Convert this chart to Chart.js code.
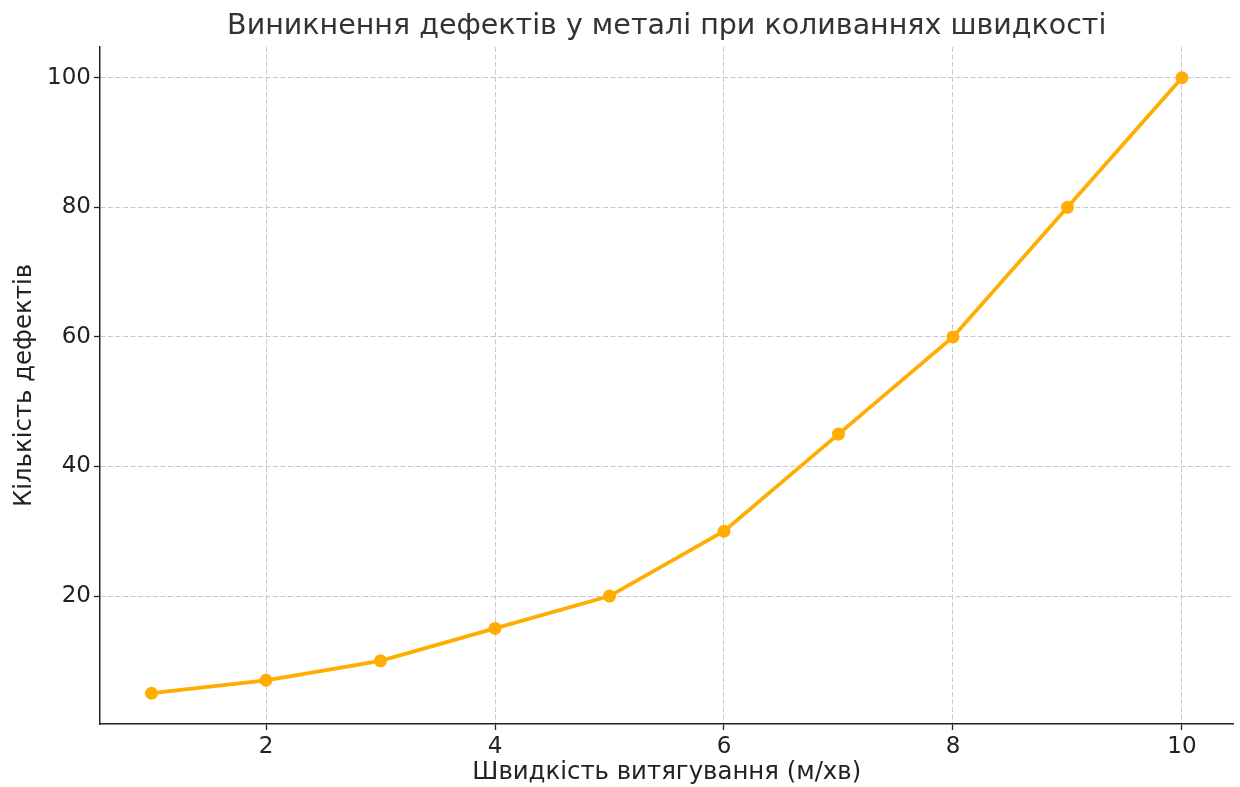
<!DOCTYPE html>
<html><head><meta charset="utf-8">
<script src="https://cdn.jsdelivr.net/npm/chart.js@4"></script>
<style>html,body{margin:0;padding:0;background:#fff}#wrap{width:1240px;height:787px}</style>
</head><body><div id="wrap"><canvas id="c" width="1240" height="787"></canvas></div>
<script>
const speeds = [1, 2, 3, 4, 5, 6, 7, 8, 9, 10];
const defects = [5, 7, 10, 15, 20, 30, 45, 60, 80, 100];
const xTicks = [2, 4, 6, 8, 10];
const yTicks = [20, 40, 60, 80, 100];
const titleText = 'Виникнення дефектів у металі при коливаннях швидкості';
const xLabel = 'Швидкість витягування (м/хв)';
const yLabel = 'Кількість дефектів';

const FONT = "'DejaVu Sans', sans-serif";
const gridCfg = {
  color: '#c8c8c8', lineWidth: 1,
  drawTicks: true, tickLength: 6, tickColor: '#222', tickBorderDash: [], tickWidth: 1.3
};
const borderCfg = { color: '#222', width: 1.5, dash: [5, 2.5] };
const centerTitle = {
  id: 'centerTitle',
  afterLayout(chart) {
    const tb = chart.titleBlock;
    if (tb) { tb.left = chart.chartArea.left; tb.right = chart.chartArea.right; tb.width = tb.right - tb.left; }
  }
};
new Chart(document.getElementById('c'), {
  type: 'scatter',
  data: { datasets: [{
    data: speeds.map((x, i) => ({ x, y: defects[i] })),
    showLine: true, borderColor: '#FFAD00', backgroundColor: '#FFAD00',
    borderWidth: 3.8, pointRadius: 6.5, pointHoverRadius: 6.5, pointBorderWidth: 0
  }]},
  plugins: [centerTitle],
  options: {
    responsive: false, animation: false, devicePixelRatio: 1,
    layout: { padding: { top: 0, right: 1, bottom: 0, left: 0 } },
    plugins: {
      legend: { display: false }, tooltip: { enabled: false },
      title: { display: true, text: titleText, color: '#333',
        font: { family: FONT, size: 28.5, weight: 'normal' }, padding: { top: 9, bottom: 3.8 } }
    },
    scales: {
      x: {
        type: 'linear', min: 0.55, max: 10.45,
        afterBuildTicks: s => { s.ticks = xTicks.map(v => ({ value: v })); },
        afterFit: s => { s.height = 63; s.paddingRight = 0; s.paddingLeft = 0; },
        grid: gridCfg,
        border: borderCfg,
        ticks: { color: '#222', font: { family: FONT, size: 23 }, padding: 3, maxRotation: 0 },
        title: { display: true, text: xLabel, color: '#222', font: { family: FONT, size: 24.4 }, padding: { top: 0, bottom: 0 } }
      },
      y: {
        type: 'linear', min: 0.25, max: 104.75,
        afterBuildTicks: s => { s.ticks = yTicks.map(v => ({ value: v })); },
        afterFit: s => { s.width = 100; },
        grid: gridCfg,
        border: borderCfg,
        ticks: { color: '#222', font: { family: FONT, size: 23 }, padding: 3 },
        title: { display: true, text: yLabel, color: '#222', font: { family: FONT, size: 24.4 }, padding: { top: 10, bottom: 0 } }
      }
    }
  }
});
</script></body></html>
